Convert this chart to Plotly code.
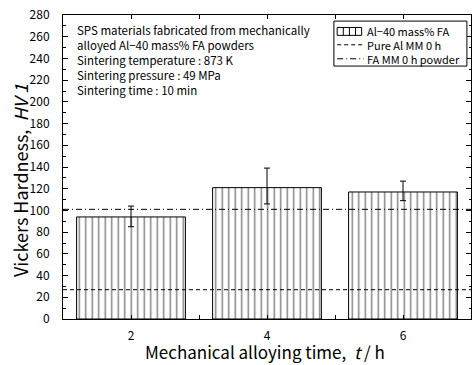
import plotly.graph_objects as go

# Data
times = [2, 4, 6]
hardness = [94, 121, 117]
err_plus = [10, 18, 10]
err_minus = [9, 15, 8]
pure_al = 27
fa_powder = 101
x_span = [1, 7]
series_names = ["Al\u221240 mass% FA", "Pure Al MM 0 h", "FA MM 0 h powder"]

FONT = "Noto Sans CJK JP"
DASH = "4px,3px"
DASHDOT = "6px,3px,1px,3px"

fig = go.Figure()
fig.add_trace(go.Bar(
    x=times, y=hardness, width=1.6, name=series_names[0],
    marker=dict(color="white", line=dict(color="black", width=1),
                pattern=dict(shape="|", size=6.5, solidity=0.22,
                             fgcolor="black", bgcolor="white", fillmode="overlay")),
    error_y=dict(type="data", symmetric=False, array=err_plus, arrayminus=err_minus,
                 color="black", thickness=1, width=3),
))
fig.add_trace(go.Scatter(
    x=x_span, y=[pure_al, pure_al], mode="lines", name=series_names[1],
    line=dict(color="black", width=1, dash=DASH),
))
fig.add_trace(go.Scatter(
    x=x_span, y=[fa_powder, fa_powder], mode="lines", name=series_names[2],
    line=dict(color="black", width=1, dash=DASHDOT),
))

fig.add_annotation(
    xref="paper", yref="paper", x=0.030, y=0.985, xanchor="left", yanchor="top",
    align="left", showarrow=False,
    text=("SPS materials fabricated from mechanically<br>"
          "alloyed Al\u221240 mass% FA powders<br>"
          "Sintering temperature : 873 K<br>"
          "Sintering pressure : 49 MPa<br>"
          "Sintering time : 10 min"),
    font=dict(family=FONT, size=11.5, color="black"),
)

# Custom legend (compact, as in the reference)
LX0, LX1, LY0, LY1 = 0.664, 0.990, 0.832, 0.980
fig.add_shape(type="rect", xref="paper", yref="paper", x0=LX0, x1=LX1, y0=LY0, y1=LY1,
              line=dict(color="black", width=1), fillcolor="white", layer="above")
row_y = [0.946, 0.902, 0.856]
sw0, sw1 = 0.672, 0.737
fig.add_shape(type="rect", xref="paper", yref="paper", x0=sw0, x1=0.732,
              y0=row_y[0] - 0.013, y1=row_y[0] + 0.013,
              line=dict(color="black", width=1), fillcolor="white", layer="above")
for k in range(1, 4):
    xx = sw0 + (0.732 - sw0) * k / 4
    fig.add_shape(type="line", xref="paper", yref="paper", x0=xx, x1=xx,
                  y0=row_y[0] - 0.013, y1=row_y[0] + 0.013,
                  line=dict(color="black", width=1), layer="above")
fig.add_shape(type="line", xref="paper", yref="paper", x0=sw0, x1=sw1,
              y0=row_y[1], y1=row_y[1], line=dict(color="black", width=1, dash=DASH),
              layer="above")
fig.add_shape(type="line", xref="paper", yref="paper", x0=sw0, x1=sw1,
              y0=row_y[2], y1=row_y[2], line=dict(color="black", width=1, dash=DASHDOT),
              layer="above")
for name, yy in zip(series_names, row_y):
    fig.add_annotation(xref="paper", yref="paper", x=0.741, y=yy, xanchor="left",
                       yanchor="middle", showarrow=False, text=name,
                       font=dict(family=FONT, size=11, color="black"))

# Axis titles placed as in the reference
fig.add_annotation(xref="paper", yref="paper", x=0.495, y=-0.108, xanchor="center",
                   yanchor="middle", showarrow=False,
                   text="Mechanical alloying time,  <i>t</i> / h",
                   font=dict(family=FONT, size=17, color="black"))
fig.add_annotation(xref="paper", yref="paper", x=-0.107, y=0.455, xanchor="center",
                   yanchor="middle", showarrow=False, textangle=-90,
                   text="Vickers Hardness,  <i>HV 1</i>",
                   font=dict(family=FONT, size=18, color="black"))

fig.update_layout(
    width=472, height=365,
    margin=dict(l=63, r=1, t=15, b=46),
    paper_bgcolor="white", plot_bgcolor="white",
    font=dict(family=FONT, color="black", size=12),
    showlegend=False,
    xaxis=dict(range=x_span, tickvals=[2, 3, 4, 5, 6], ticktext=["2", "", "4", "", "6"],
               ticks="inside", ticklen=4, tickcolor="black", showline=True,
               linecolor="black", linewidth=1, mirror="ticks", showgrid=False,
               zeroline=False, ticklabelstandoff=6),
    yaxis=dict(range=[0, 280], dtick=20, ticks="inside", ticklen=5, tickcolor="black",
               showline=True, linecolor="black", linewidth=1, mirror="ticks",
               showgrid=False, zeroline=False, ticklabelstandoff=10,
               minor=dict(dtick=10, ticks="inside", ticklen=2.5, tickcolor="black")),
)

fig.write_html("out.html", config={"displayModeBar": False},
               post_script="document.body.style.margin='0';document.body.style.overflow='hidden';")
